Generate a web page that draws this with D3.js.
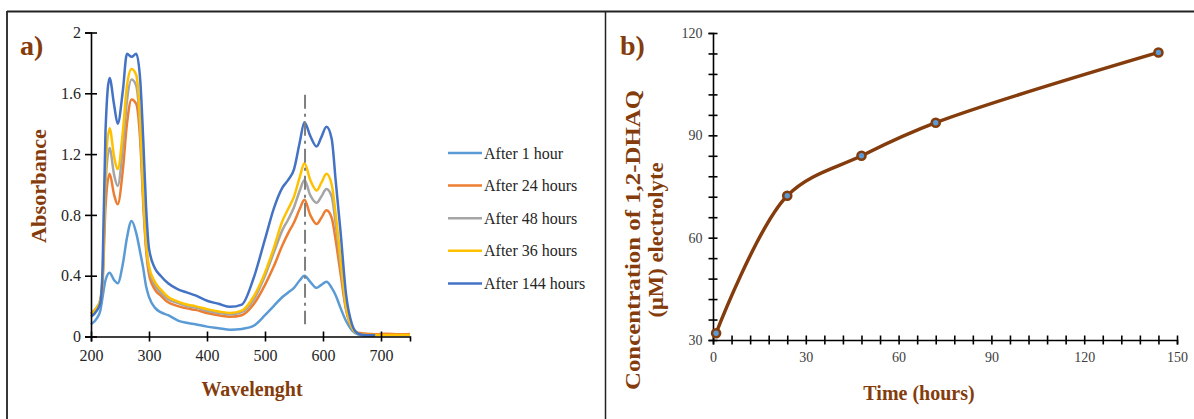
<!DOCTYPE html>
<html>
<head>
<meta charset="utf-8">
<script src="https://cdn.jsdelivr.net/npm/d3@7"></script>
<style>
  body { margin: 0; background: #fff; }
  svg { display: block; font-family: "Liberation Serif", "Times New Roman", serif; }
</style>
</head>
<body>
<div id="chart"></div>
<script>
// ---- panel a: absorbance spectra ----
const wavelengths = [200, 210, 216, 220, 225, 232, 240, 246, 255, 262, 270, 278, 285, 290, 295, 300, 310, 320, 333, 350, 365, 380, 400, 420, 440, 460, 480, 500, 515, 530, 540, 550, 560, 568, 578, 589, 597, 606, 615, 622, 630, 640, 650, 660, 670, 690, 710, 730, 750];

const after1 = [0.08, 0.12, 0.17, 0.26, 0.37, 0.42, 0.37, 0.35, 0.48, 0.65, 0.76, 0.68, 0.55, 0.45, 0.33, 0.26, 0.19, 0.16, 0.14, 0.105, 0.09, 0.08, 0.065, 0.055, 0.045, 0.05, 0.07, 0.14, 0.20, 0.26, 0.29, 0.32, 0.37, 0.40, 0.36, 0.32, 0.34, 0.36, 0.32, 0.27, 0.19, 0.10, 0.04, 0.015, 0.008, 0.005, null, null, null];
const after24 = [0.15, 0.19, 0.23, 0.35, 0.85, 1.07, 0.93, 0.87, 1.10, 1.40, 1.56, 1.53, 1.28, 0.88, 0.57, 0.41, 0.31, 0.27, 0.225, 0.20, 0.185, 0.175, 0.155, 0.14, 0.13, 0.14, 0.21, 0.34, 0.46, 0.60, 0.68, 0.75, 0.84, 0.90, 0.80, 0.74, 0.78, 0.83, 0.78, 0.63, 0.42, 0.17, 0.06, 0.025, 0.02, 0.015, 0.018, 0.014, 0.016];
const after48 = [0.15, 0.19, 0.24, 0.38, 1.00, 1.24, 1.06, 0.99, 1.25, 1.55, 1.69, 1.65, 1.35, 0.92, 0.60, 0.44, 0.34, 0.29, 0.245, 0.22, 0.20, 0.19, 0.17, 0.155, 0.145, 0.16, 0.24, 0.40, 0.55, 0.70, 0.77, 0.85, 0.96, 1.03, 0.93, 0.88, 0.92, 0.97, 0.92, 0.74, 0.48, 0.18, 0.06, 0.02, 0.01, 0.008, null, null, null];
const after36 = [0.15, 0.19, 0.24, 0.40, 1.10, 1.37, 1.18, 1.10, 1.35, 1.65, 1.76, 1.72, 1.40, 0.95, 0.62, 0.46, 0.36, 0.31, 0.26, 0.23, 0.21, 0.20, 0.18, 0.165, 0.155, 0.17, 0.26, 0.42, 0.58, 0.76, 0.84, 0.92, 1.05, 1.14, 1.03, 0.96, 1.01, 1.07, 1.00, 0.80, 0.52, 0.19, 0.06, 0.02, 0.012, 0.01, 0.01, 0.01, 0.01];
const after144 = [0.13, 0.17, 0.22, 0.45, 1.35, 1.70, 1.52, 1.40, 1.62, 1.86, 1.84, 1.86, 1.68, 1.30, 0.85, 0.58, 0.45, 0.40, 0.35, 0.31, 0.29, 0.27, 0.235, 0.215, 0.195, 0.21, 0.38, 0.64, 0.84, 0.98, 1.03, 1.10, 1.28, 1.41, 1.32, 1.25, 1.31, 1.38, 1.30, 1.02, 0.70, 0.27, 0.08, 0.02, 0.01, 0.008, null, null, null];

const seriesNames = ["After 1 hour", "After 24 hours", "After 48 hours", "After 36 hours", "After 144 hours"];
const seriesColors = ["#5B9BD5", "#ED7D31", "#A5A5A5", "#FFC000", "#4472C4"];
const seriesValues = [after1, after24, after48, after36, after144];

const wlTicks = [200, 300, 400, 500, 600, 700];
const absTicks = [0, 0.4, 0.8, 1.2, 1.6, 2];
const absTickLabels = ["0", "0.4", "0.8", "1.2", "1.6", "2"];
const markerWavelength = 569;
const markerRange = [0.08, 1.59];

// ---- panel b: concentration vs time ----
const hours = [1, 24, 48, 72, 144];
const concentration = [32.0, 72.3, 84.0, 93.7, 114.3];
const timeTicks = [0, 30, 60, 90, 120, 150];
const concTicks = [30, 60, 90, 120];

const brown = "#843C0C";
const width = 1194, height = 419;

const svg = d3.select("#chart").append("svg")
  .attr("width", width)
  .attr("height", height);

// frame
svg.append("line").attr("x1", 7).attr("x2", width).attr("y1", 11.5).attr("y2", 11.5)
  .attr("stroke", "#222").attr("stroke-width", 1.8);
svg.append("line").attr("x1", 7).attr("x2", 7).attr("y1", 11).attr("y2", height)
  .attr("stroke", "#222").attr("stroke-width", 1.8);
svg.append("line").attr("x1", 605.5).attr("x2", 605.5).attr("y1", 11).attr("y2", height)
  .attr("stroke", "#222").attr("stroke-width", 1.5);

// ================= panel a =================
const xA = d3.scaleLinear().domain([200, 750]).range([91, 410]);
const yA = d3.scaleLinear().domain([0, 2]).range([336.5, 32.5]);

const gA = svg.append("g");

const lineA = d3.line()
  .defined(d => d[1] != null)
  .curve(d3.curveMonotoneX)
  .x(d => xA(d[0]))
  .y(d => yA(d[1]));

seriesValues.forEach((vals, i) => {
  gA.append("path")
    .datum(wavelengths.map((w, j) => [w, vals[j]]))
    .attr("fill", "none")
    .attr("stroke", seriesColors[i])
    .attr("stroke-width", 2.5)
    .attr("stroke-linejoin", "round")
    .attr("d", lineA);
});

// dash-dot marker line
gA.append("line")
  .attr("x1", xA(markerWavelength)).attr("x2", xA(markerWavelength))
  .attr("y1", yA(markerRange[1])).attr("y2", yA(markerRange[0]))
  .attr("stroke", "#7F7F7F")
  .attr("stroke-width", 2)
  .attr("stroke-dasharray", "14,5,3,5");

const xAxisA = d3.axisBottom(xA).tickValues(wlTicks).tickSizeOuter(0).tickSize(5).tickPadding(8);
const yAxisA = d3.axisLeft(yA).tickValues(absTicks).tickFormat((d, i) => absTickLabels[i])
  .tickSizeOuter(0).tickSize(6).tickPadding(4);

const gxA = gA.append("g").attr("transform", `translate(0,${yA(0)})`).call(xAxisA);
const gyA = gA.append("g").attr("transform", `translate(${xA(200)},0)`).call(yAxisA);

[gxA, gyA].forEach(g => {
  g.select(".domain").attr("stroke", "#000").attr("stroke-width", 1.6);
  g.selectAll(".tick line").attr("stroke", "#000").attr("stroke-width", 1.6);
  g.selectAll(".tick text").attr("font-family", "Liberation Serif").attr("font-size", 16).attr("fill", "#262626");
});
gxA.selectAll(".tick line").attr("y1", -5);
gyA.selectAll(".tick line").attr("x1", 6);

gA.append("text")
  .attr("transform", "translate(46,186) rotate(-90)")
  .attr("text-anchor", "middle")
  .attr("font-weight", "bold").attr("font-size", 20).attr("fill", brown)
  .attr("textLength", 114).attr("lengthAdjust", "spacingAndGlyphs")
  .text("Absorbance");
gA.append("text")
  .attr("x", 252).attr("y", 396)
  .attr("text-anchor", "middle")
  .attr("font-weight", "bold").attr("font-size", 20).attr("fill", brown)
  .text("Wavelenght");
gA.append("text")
  .attr("x", 20).attr("y", 55)
  .attr("font-weight", "bold").attr("font-size", 28).attr("fill", brown)
  .text("a)");

// legend
const legend = gA.append("g");
seriesNames.forEach((name, i) => {
  const y = 153 + i * 32.6;
  legend.append("line").attr("x1", 448).attr("x2", 482).attr("y1", y).attr("y2", y)
    .attr("stroke", seriesColors[i]).attr("stroke-width", 2.5);
  legend.append("text").attr("x", 484).attr("y", y + 5.5)
    .attr("font-size", 16).attr("fill", "#262626")
    .text(name);
});

// ================= panel b =================
const xB = d3.scaleLinear().domain([0, 150]).range([713, 1177]);
const yB = d3.scaleLinear().domain([30, 120]).range([340, 33]);

const gB = svg.append("g");

const xAxisB = d3.axisBottom(xB).tickValues(d3.range(0, 151, 6))
  .tickFormat(d => timeTicks.includes(d) ? d : "")
  .tickSizeOuter(0).tickSize(4.5).tickPadding(8);
const yAxisB = d3.axisLeft(yB).tickValues(d3.range(30, 121, 6))
  .tickFormat(d => concTicks.includes(d) ? d : "")
  .tickSizeOuter(0).tickSize(4.5).tickPadding(6);

const gxB = gB.append("g").attr("transform", `translate(0,${yB(30)})`).call(xAxisB);
const gyB = gB.append("g").attr("transform", `translate(${xB(0)},0)`).call(yAxisB);

[gxB, gyB].forEach(g => {
  g.select(".domain").attr("stroke", "#000").attr("stroke-width", 1.6);
  g.selectAll(".tick line").attr("stroke", "#000").attr("stroke-width", 1.6);
  g.selectAll(".tick text").attr("font-family", "Liberation Serif").attr("font-size", 14).attr("fill", "#404040");
});
gxB.selectAll(".tick line").attr("y1", -4.5);
gyB.selectAll(".tick line").attr("x1", 4.5);

const lineB = d3.line()
  .curve(d3.curveCatmullRom.alpha(0.5))
  .x((d, i) => xB(hours[i]))
  .y(d => yB(d));

gB.append("path")
  .datum(concentration)
  .attr("fill", "none")
  .attr("stroke", brown)
  .attr("stroke-width", 3.5)
  .attr("d", lineB);

gB.selectAll("circle")
  .data(concentration)
  .join("circle")
    .attr("cx", (d, i) => xB(hours[i]))
    .attr("cy", d => yB(d))
    .attr("r", 4)
    .attr("fill", "#5B9BD5")
    .attr("stroke", brown)
    .attr("stroke-width", 2.6);

const yLabB = gB.append("text")
  .attr("transform", "translate(0,240) rotate(-90)")
  .attr("text-anchor", "middle")
  .attr("font-weight", "bold").attr("font-size", 21).attr("fill", brown);
yLabB.append("tspan").attr("x", 0).attr("y", 640)
  .attr("textLength", 300).attr("lengthAdjust", "spacingAndGlyphs")
  .text("Concentration  of 1,2-DHAQ");
yLabB.append("tspan").attr("x", 0).attr("y", 663)
  .attr("textLength", 155).attr("lengthAdjust", "spacingAndGlyphs")
  .text("(μM) electrolyte");

gB.append("text")
  .attr("x", 919).attr("y", 400)
  .attr("text-anchor", "middle")
  .attr("font-weight", "bold").attr("font-size", 20).attr("fill", brown)
  .text("Time (hours)");
gB.append("text")
  .attr("x", 620).attr("y", 55)
  .attr("font-weight", "bold").attr("font-size", 28).attr("fill", brown)
  .text("b)");
</script>
</body>
</html>
